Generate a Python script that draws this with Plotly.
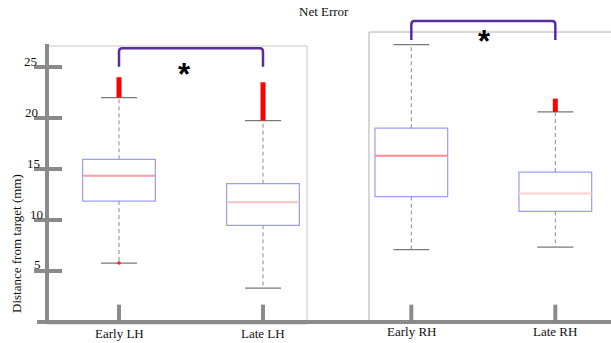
import plotly.graph_objects as go

# ---- data -------------------------------------------------------------
groups = ["Early LH", "Late LH", "Early RH", "Late RH"]
positions = [1.0, 2.0, 3.03, 4.03]
q1 = [11.86, 9.48, 12.3, 10.85]
median = [14.34, 11.73, 16.3, 12.6]
q3 = [15.95, 13.56, 19.0, 14.7]
whisker_low = [5.78, 3.33, 7.1, 7.35]
whisker_high = [22.0, 19.75, 27.2, 20.6]
# outlier spans (min, max); None when a group has no outliers
outlier_span = [(22.0, 24.0), (19.75, 23.5), None, (20.6, 21.9)]
low_outlier = [5.78, None, None, None]
y_ticks = [5, 10, 15, 20, 25]
# significant pairs: (index a, index b, bracket top, bracket leg end)
sig_pairs = [(0, 1, 26.83, 25.03), (2, 3, 29.5, 27.65)]
star_xy = [(1.458, 24.26), (3.54, 27.5)]

# ---- styling ----------------------------------------------------------
SERIF = "Liberation Serif, Times New Roman, serif"
AXIS_GREY = "#8a8a8a"
BOX_BLUE = "#9c9cff"
MEDIAN_PINK = ["#ffa0a0", "#ffc4c4", "#ff8c8c", "#ffd0d0"]
BRACKET = "#5b2c9f"
box_w = 0.505
cap_w = 0.25
# right edge of each y tick label (axis units), slightly staggered
tick_label_x = [0.472, 0.486, 0.465, 0.451, 0.444]

X_RANGE = [0.1736, 4.4167]
Y_RANGE = [-2.06, 31.57]

fig = go.Figure()

for i, g in enumerate(groups):
    x = positions[i]
    # box body (whiskers drawn separately in dashed grey)
    fig.add_trace(go.Box(
        x=[x], q1=[q1[i]], median=[median[i]], q3=[q3[i]],
        lowerfence=[q1[i]], upperfence=[q3[i]],
        width=box_w, whiskerwidth=0, fillcolor="white",
        line=dict(color=BOX_BLUE, width=1.2), name=g, hoverinfo="skip",
    ))
    # median line
    fig.add_trace(go.Scatter(
        x=[x - box_w / 2, x + box_w / 2], y=[median[i], median[i]],
        mode="lines", line=dict(color=MEDIAN_PINK[i], width=2), hoverinfo="skip",
    ))
    # dashed whiskers
    for a, b in ((q3[i], whisker_high[i]), (q1[i], whisker_low[i])):
        fig.add_trace(go.Scatter(
            x=[x, x], y=[a, b], mode="lines",
            line=dict(color="#8c8c8c", width=1, dash="4px,3px"), hoverinfo="skip",
        ))
    # whisker caps
    for v in (whisker_high[i], whisker_low[i]):
        fig.add_trace(go.Scatter(
            x=[x - cap_w / 2, x + cap_w / 2], y=[v, v], mode="lines",
            line=dict(color="#7a7a7a", width=1.2), hoverinfo="skip",
        ))
    # outliers
    if outlier_span[i] is not None:
        lo, hi = outlier_span[i]
        fig.add_trace(go.Scatter(
            x=[x, x], y=[lo, hi], mode="lines",
            line=dict(color="#ff0000", width=5), hoverinfo="skip",
        ))
    if low_outlier[i] is not None:
        fig.add_trace(go.Scatter(
            x=[x], y=[low_outlier[i]], mode="markers",
            marker=dict(color="#ff0000", size=3, symbol="cross-thin",
                        line=dict(color="#ff0000", width=1)),
            hoverinfo="skip",
        ))

shapes = []
# panel frames
shapes.append(dict(type="rect", xref="x", yref="y", x0=0.5, x1=2.3056, y0=-0.2, y1=27.06,
                   line=dict(color="#c8c8c8", width=1), layer="below"))
shapes.append(dict(type="path", xref="x", yref="y",
                   path="M 2.736,0.1 L 2.736,28.43 L 4.5,28.43",
                   line=dict(color="#b0b0b0", width=1), layer="below"))
# thick left axis and bottom axis
shapes.append(dict(type="line", xref="x", yref="y", x0=0.5, x1=0.5, y0=-0.1, y1=27.25,
                   line=dict(color=AXIS_GREY, width=4)))
shapes.append(dict(type="line", xref="x", yref="y", x0=0.431, x1=4.5, y0=0.0, y1=0.0,
                   line=dict(color=AXIS_GREY, width=4)))
# y ticks crossing the axis
for t in y_ticks:
    shapes.append(dict(type="line", xref="x", yref="y", x0=0.41, x1=0.604, y0=t, y1=t,
                       line=dict(color=AXIS_GREY, width=4)))
# short x ticks
for x in positions:
    shapes.append(dict(type="line", xref="x", yref="y", x0=x, x1=x, y0=0.0, y1=1.7,
                       line=dict(color=AXIS_GREY, width=4)))
# significance brackets
rx, ry = 0.022, 0.32
for a, b, yt, yb in sig_pairs:
    x1, x2 = positions[a], positions[b]
    path = (f"M {x1},{yb} L {x1},{yt - ry} Q {x1},{yt} {x1 + rx},{yt} "
            f"L {x2 - rx},{yt} Q {x2},{yt} {x2},{yt - ry} L {x2},{yb}")
    shapes.append(dict(type="path", xref="x", yref="y", path=path,
                       line=dict(color=BRACKET, width=2.5)))

annotations = []
# tick labels
for t, lx in zip(y_ticks, tick_label_x):
    annotations.append(dict(x=lx, y=t, yshift=6, text=str(t), showarrow=False,
                            xanchor="right", yanchor="middle",
                            font=dict(family=SERIF, size=13, color="#111")))
# category labels
for i, (x, g) in enumerate(zip(positions, groups)):
    annotations.append(dict(x=x, y=-1.08, yshift=2 if i >= 2 else 0, text=g,
                            showarrow=False, xanchor="center", yanchor="middle",
                            font=dict(family=SERIF, size=13, color="#111")))
# asterisks
for sx, sy in star_xy:
    annotations.append(dict(x=sx, y=sy, text="<b>*</b>", showarrow=False,
                            xanchor="center", yanchor="middle",
                            font=dict(family="Liberation Sans, Arial", size=31, color="black")))
# title and y-axis title
annotations.append(dict(x=2.4236, y=30.49, text="Net Error", showarrow=False,
                        xanchor="center", yanchor="middle",
                        font=dict(family=SERIF, size=13, color="#111")))
annotations.append(dict(x=(17 - 119) / 144 + 1, y=7.65, text="Distance from target (mm)",
                        textangle=-90, showarrow=False, xanchor="center", yanchor="middle",
                        font=dict(family=SERIF, size=13, color="#111")))

fig.update_layout(
    width=611, height=343,
    margin=dict(l=0, r=0, t=0, b=0),
    paper_bgcolor="white", plot_bgcolor="white",
    showlegend=False,
    xaxis=dict(range=X_RANGE, visible=False, fixedrange=True),
    yaxis=dict(range=Y_RANGE, visible=False, fixedrange=True),
    shapes=shapes, annotations=annotations,
)

fig.write_html("out.html")
